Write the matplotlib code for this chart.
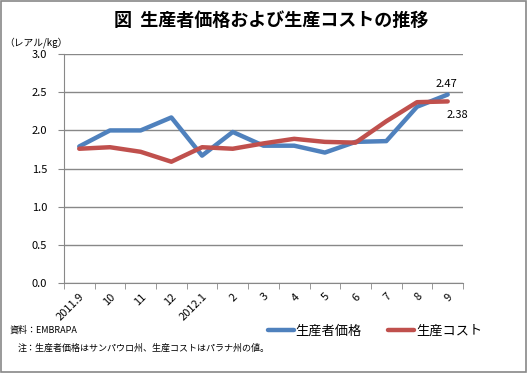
import matplotlib
matplotlib.use("Agg")
import matplotlib.pyplot as plt
from matplotlib.patches import Rectangle

plt.rcParams['font.family'] = ['Noto Sans CJK JP', 'DejaVu Sans']

categories = ["2011.9", "10", "11", "12", "2012.1", "2", "3", "4", "5", "6", "7", "8", "9"]
producer_price = [1.79, 2.00, 2.00, 2.17, 1.67, 1.98, 1.80, 1.80, 1.71, 1.85, 1.86, 2.31, 2.47]
production_cost = [1.76, 1.78, 1.72, 1.59, 1.78, 1.76, 1.83, 1.89, 1.85, 1.84, 2.12, 2.37, 2.38]
yticks = [0.0, 0.5, 1.0, 1.5, 2.0, 2.5, 3.0]

fig = plt.figure(figsize=(5.28, 3.73), dpi=100)
fig.patches.append(Rectangle((0.002, 0.003), 0.995, 0.994, transform=fig.transFigure,
                             fill=False, edgecolor='#888888', linewidth=1.2))

ax = fig.add_axes([0.121, 0.241, 0.756, 0.614])
x = list(range(len(categories)))
ax.plot(x, producer_price, color='#4F81BD', linewidth=3.2, label='生産者価格', solid_capstyle='round')
ax.plot(x, production_cost, color='#C0504D', linewidth=3.2, label='生産コスト', solid_capstyle='round')

ax.set_xlim(-0.5, len(categories) - 0.5)
ax.set_ylim(0, 3.0)
ax.set_yticks(yticks)
ax.set_yticklabels([f"{v:.1f}" for v in yticks], fontsize=8)
ax.yaxis.grid(True, color='#888888', linewidth=1)
ax.set_axisbelow(True)
for s in ['top', 'right']:
    ax.spines[s].set_visible(False)
ax.spines['left'].set_color('#888888')
ax.spines['bottom'].set_color('#888888')
ax.tick_params(axis='y', length=4, color='#888888', pad=8)

ax.set_xticks(x)
ax.set_xticklabels(categories, rotation=45, ha='right', va='top', fontsize=8, rotation_mode='anchor')
ax.tick_params(axis='x', length=0, pad=6)
ax.set_xticks([i - 0.5 for i in range(len(categories) + 1)], minor=True)
ax.tick_params(axis='x', which='minor', length=4, color='#888888')

ax.annotate(f"{producer_price[-1]:.2f}", (x[-1], producer_price[-1]), xytext=(-9, 4),
            textcoords='offset points', fontsize=8, ha='left', va='bottom')
ax.annotate(f"{production_cost[-1]:.2f}", (x[-1], production_cost[-1]), xytext=(-1, -6),
            textcoords='offset points', fontsize=8, ha='left', va='top')

fig.text(0.513, 0.945, '図  生産者価格および生産コストの推移', ha='center', va='center',
         fontsize=13, fontweight='bold')
fig.text(0.008, 0.885, '（レアル/kg）', ha='left', va='center', fontsize=7)
fig.text(0.018, 0.115, '資料：EMBRAPA', ha='left', va='center', fontsize=6.5)
fig.text(0.034, 0.066, '注：生産者価格はサンパウロ州、生産コストはパラナ州の値。', ha='left', va='center', fontsize=6.5)

leg = fig.legend(loc='center', bbox_to_anchor=(0.71, 0.113), ncol=2, frameon=False,
                 fontsize=9.5, handlelength=2.0, handletextpad=0.1, columnspacing=2.0)

fig.savefig('out.png', dpi=100)
